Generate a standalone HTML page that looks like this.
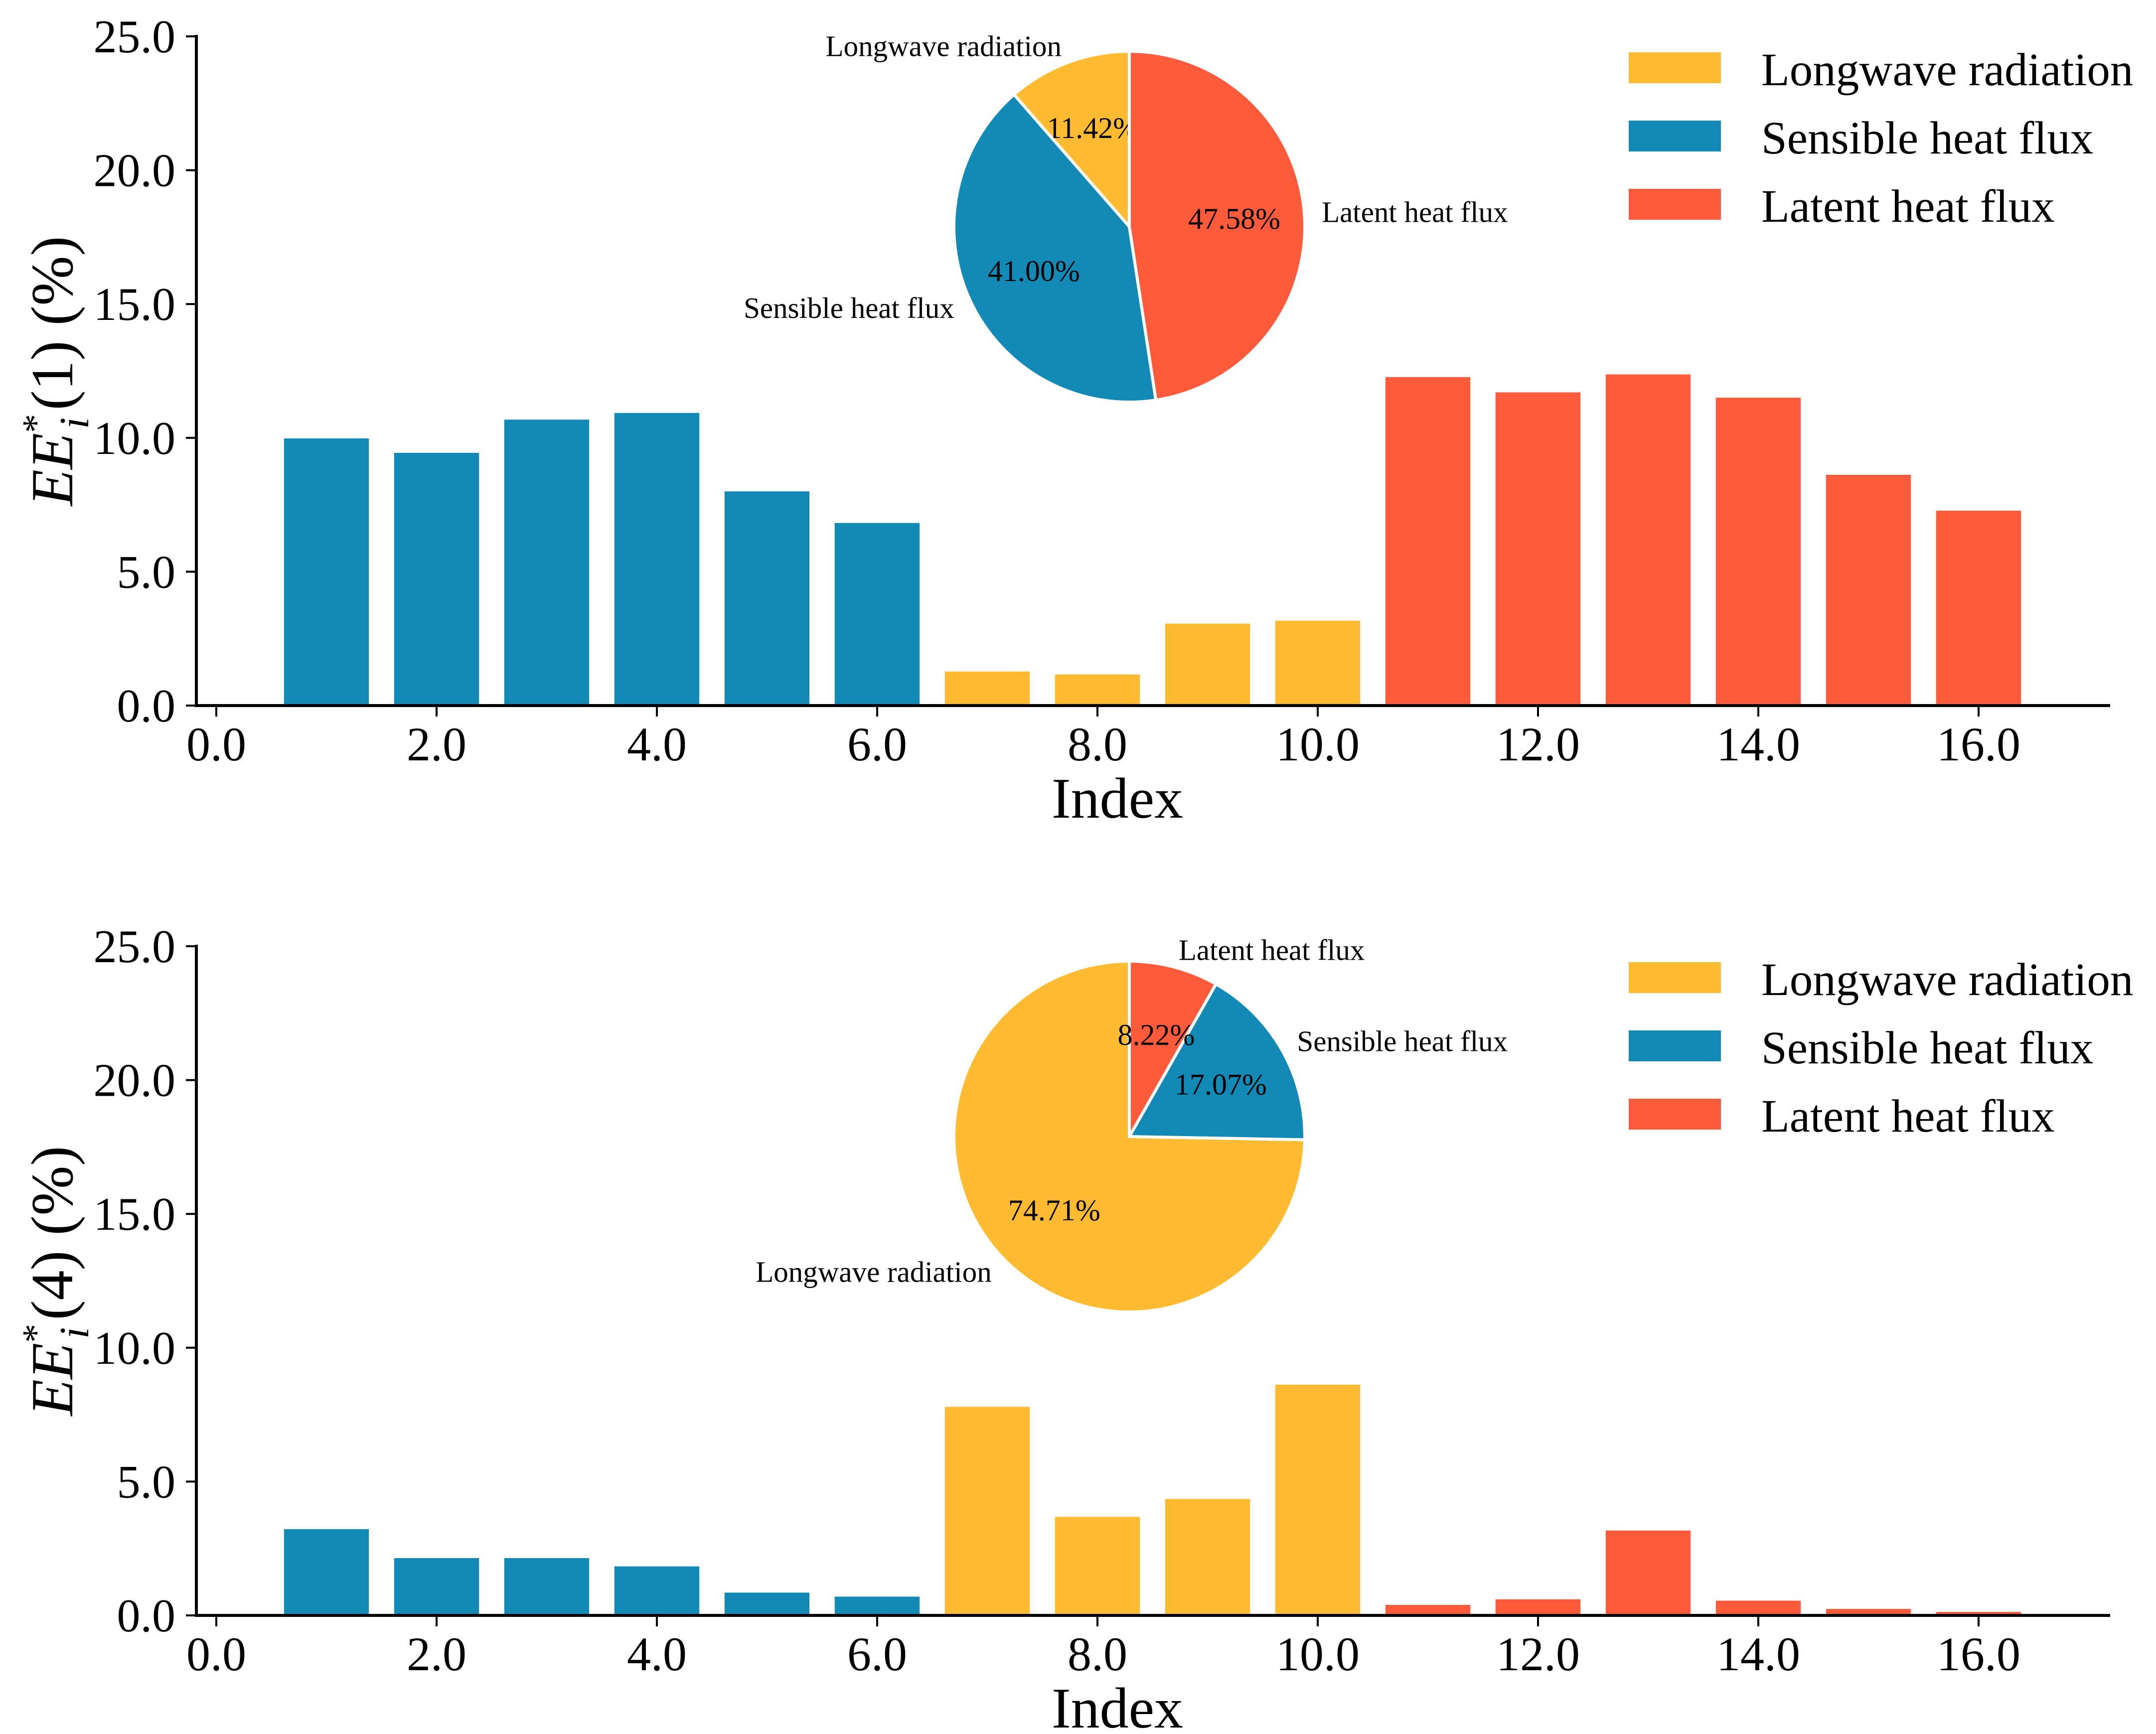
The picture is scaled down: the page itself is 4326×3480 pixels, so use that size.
<!DOCTYPE html>
<html><head><meta charset="utf-8"><style>
html,body{margin:0;padding:0;background:#fff}
svg{display:block}
text{font-family:"Liberation Serif","DejaVu Serif",serif;fill:#000}
</style></head><body>
<svg id="fig" xmlns="http://www.w3.org/2000/svg" width="4326" height="3480" viewBox="0 0 4326 3480"></svg>
<script>
const categories = [1,2,3,4,5,6,7,8,9,10,11,12,13,14,15,16];
const groups = ['s','s','s','s','s','s','l','l','l','l','h','h','h','h','h','h'];
const values1 = [10.0,9.46,10.7,10.95,8.02,6.84,1.29,1.18,3.08,3.19,12.29,11.72,12.39,11.52,8.64,7.30];
const values4 = [3.24,2.16,2.16,1.85,0.87,0.72,7.81,3.70,4.37,8.64,0.41,0.62,3.19,0.57,0.26,0.15];
const pieNames = ['Longwave radiation','Sensible heat flux','Latent heat flux'];
const pie1 = [11.42,41.00,47.58];
const pie4 = [74.71,17.07,8.22];
const yTicks = [0,5,10,15,20,25];
const xTicks = [0,2,4,6,8,10,12,14,16];

const COL = {l:'#FFBC33', s:'#138AB5', h:'#FE5B3C'};
const PIECOL = ['#FFBC33','#138AB5','#FE5B3C'];
const NS = 'http://www.w3.org/2000/svg';
const svg = document.getElementById('fig');
function mk(tag, attrs, parent){const e=document.createElementNS(NS,tag);for(const k in attrs)e.setAttribute(k,attrs[k]);(parent||svg).appendChild(e);return e;}

function panel(off, vals, pie, idx, label){
  const g = mk('g',{});
  
  
  const y0 = 1416+off, ppu = 53.72, x0 = 434, pxu = 221;
  const X = v => x0 + v*pxu, Y = v => y0 - v*ppu;
  vals.forEach((v,i)=>{
    const w = 0.78*pxu;
    const r = mk('rect',{x:X(categories[i])-w/2,y:Y(v),width:w,height:v*ppu,fill:COL[groups[i]],stroke:'#fff','stroke-width':2},g);
    
    
  });
  const ya = mk('line',{x1:394,y1:Y(25)-3,x2:394,y2:y0+3,stroke:'#000','stroke-width':6},g);
  
  
  const xa = mk('line',{x1:391,y1:y0,x2:4234,y2:y0,stroke:'#000','stroke-width':6},g);
  
  
  yTicks.forEach(t=>{
    mk('line',{x1:373,y1:Y(t),x2:394,y2:Y(t),stroke:'#000','stroke-width':4},g);
    const tx = mk('text',{x:352,y:Y(t)+32,'text-anchor':'end','font-size':94},g);
    tx.textContent = t.toFixed(1);
    
    
  });
  xTicks.forEach(t=>{
    mk('line',{x1:X(t),y1:y0,x2:X(t),y2:y0+22,stroke:'#000','stroke-width':4},g);
    const tx = mk('text',{x:X(t),y:y0+110,'text-anchor':'middle','font-size':96},g);
    tx.textContent = t.toFixed(1);
    
    
  });
  const xl = mk('text',{x:2242,y:y0+225,'text-anchor':'middle','font-size':116},g);
  xl.textContent = 'Index';
  
  
  const yl = mk('text',{x:0,y:0,'text-anchor':'middle','font-size':120,transform:`translate(145,${Y(12.5)}) rotate(-90)`},g);
  yl.innerHTML = '<tspan font-style="italic">EE</tspan><tspan font-size="76" dy="-48">*</tspan><tspan font-style="italic" font-size="84" dx="-30" dy="80">i</tspan><tspan dy="-32" dx="14">('+label+') (%)</tspan>';
  
  
  const cx = 2266, cy = 455+off, R = 352;
  let a = 90;
  pie.forEach((p,i)=>{
    const a1 = a, a2 = a + p*3.6;
    const r1 = a1*Math.PI/180, r2 = a2*Math.PI/180;
    const large = (a2-a1)>180?1:0;
    const d = `M${cx},${cy} L${cx+R*Math.cos(r1)},${cy-R*Math.sin(r1)} A${R},${R} 0 ${large} 0 ${cx+R*Math.cos(r2)},${cy-R*Math.sin(r2)} Z`;
    const s = mk('path',{d:d,fill:PIECOL[i],stroke:'#fff','stroke-width':6,'stroke-linejoin':'round'},g);
    
    
    const m = (a1+a2)/2*Math.PI/180;
    const lx = cx+1.1*R*Math.cos(m), ly = cy-1.1*R*Math.sin(m);
    const lt = mk('text',{x:lx,y:ly+20,'text-anchor':Math.cos(m)>=0?'start':'end','font-size':59},g);
    lt.textContent = pieNames[i];
    
    
    const pt = mk('text',{x:cx+0.6*R*Math.cos(m),y:cy-0.6*R*Math.sin(m)+20,'text-anchor':'middle','font-size':60},g);
    pt.textContent = p.toFixed(2)+'%';
    
    
    a = a2;
  });
  const lg = mk('g',{},g);
  
  
  ['l','s','h'].forEach((k,i)=>{
    const yy = 105+off+i*137;
    const pr = mk('rect',{x:3268,y:yy,width:185,height:62,fill:COL[k]},lg);
    
    
    const t = mk('text',{x:3534,y:yy+66,'font-size':93},lg);
    t.textContent = pieNames[i];
    
    
  });
}
panel(0, values1, pie1, 1, '1');
panel(1826, values4, pie4, 4, '4');
</script>
</body></html>
